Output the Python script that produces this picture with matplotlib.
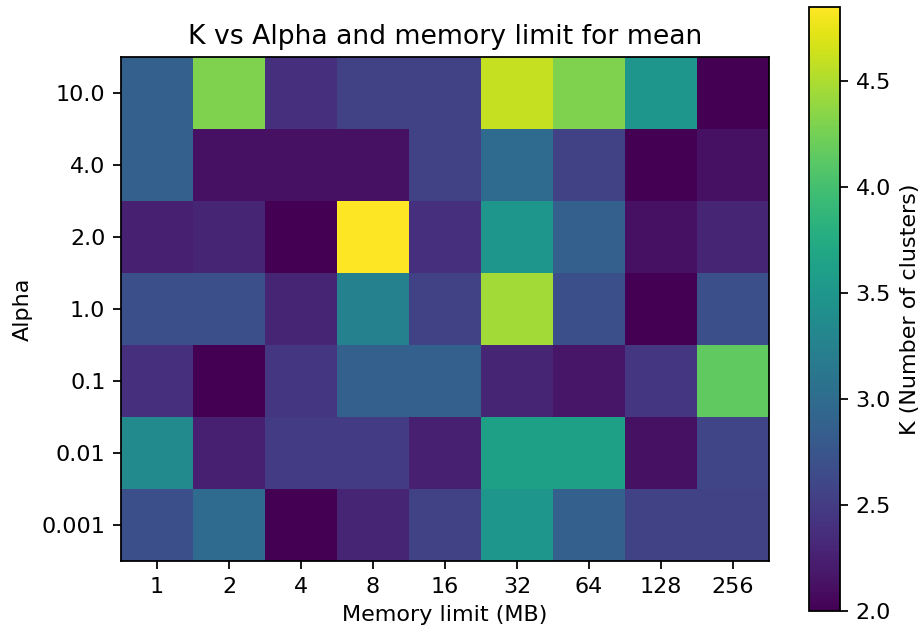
import numpy as np
import matplotlib
matplotlib.use('Agg')
import matplotlib.pyplot as plt

# Axis categories
alphas = ['10.0', '4.0', '2.0', '1.0', '0.1', '0.01', '0.001']
memory_limits = ['1', '2', '4', '8', '16', '32', '64', '128', '256']

# Mean K per (alpha, memory limit), rows top to bottom as in alphas
k_10 = [2.875, 4.3, 2.4, 2.55, 2.55, 4.6, 4.3, 3.5, 2.0]
k_4 = [2.875, 2.125, 2.125, 2.125, 2.55, 3.0, 2.55, 2.0, 2.125]
k_2 = [2.25, 2.3, 2.0, 4.85, 2.4, 3.5, 2.875, 2.125, 2.3]
k_1 = [2.7, 2.7, 2.3, 3.25, 2.55, 4.45, 2.7, 2.0, 2.7]
k_01 = [2.4, 2.0, 2.45, 2.875, 2.875, 2.3, 2.175, 2.45, 4.15]
k_001 = [3.35, 2.25, 2.5, 2.5, 2.25, 3.625, 3.625, 2.125, 2.6]
k_0001 = [2.7, 3.0, 2.0, 2.3, 2.55, 3.5, 2.875, 2.55, 2.55]


def main():
    grid = np.array([k_10, k_4, k_2, k_1, k_01, k_001, k_0001])

    fig = plt.figure(figsize=(922 / 160, 631 / 160), dpi=160)
    ax = fig.add_axes([0.1312, 0.1109, 0.7028, 0.7987])
    cax = fig.add_axes([0.8774, 0.0317, 0.0336, 0.9572])

    im = ax.imshow(grid, cmap='viridis', aspect='auto',
                   vmin=grid.min(), vmax=grid.max())
    ax.set_xticks(range(len(memory_limits)))
    ax.set_xticklabels(memory_limits)
    ax.set_yticks(range(len(alphas)))
    ax.set_yticklabels(alphas)
    ax.set_xlabel('Memory limit (MB)')
    ax.set_ylabel('Alpha')
    ax.set_title('K vs Alpha and memory limit for mean')

    cbar = fig.colorbar(im, cax=cax)
    cbar.set_label('K (Number of clusters)')

    fig.savefig('out.png', dpi=160)


if __name__ == '__main__':
    main()
